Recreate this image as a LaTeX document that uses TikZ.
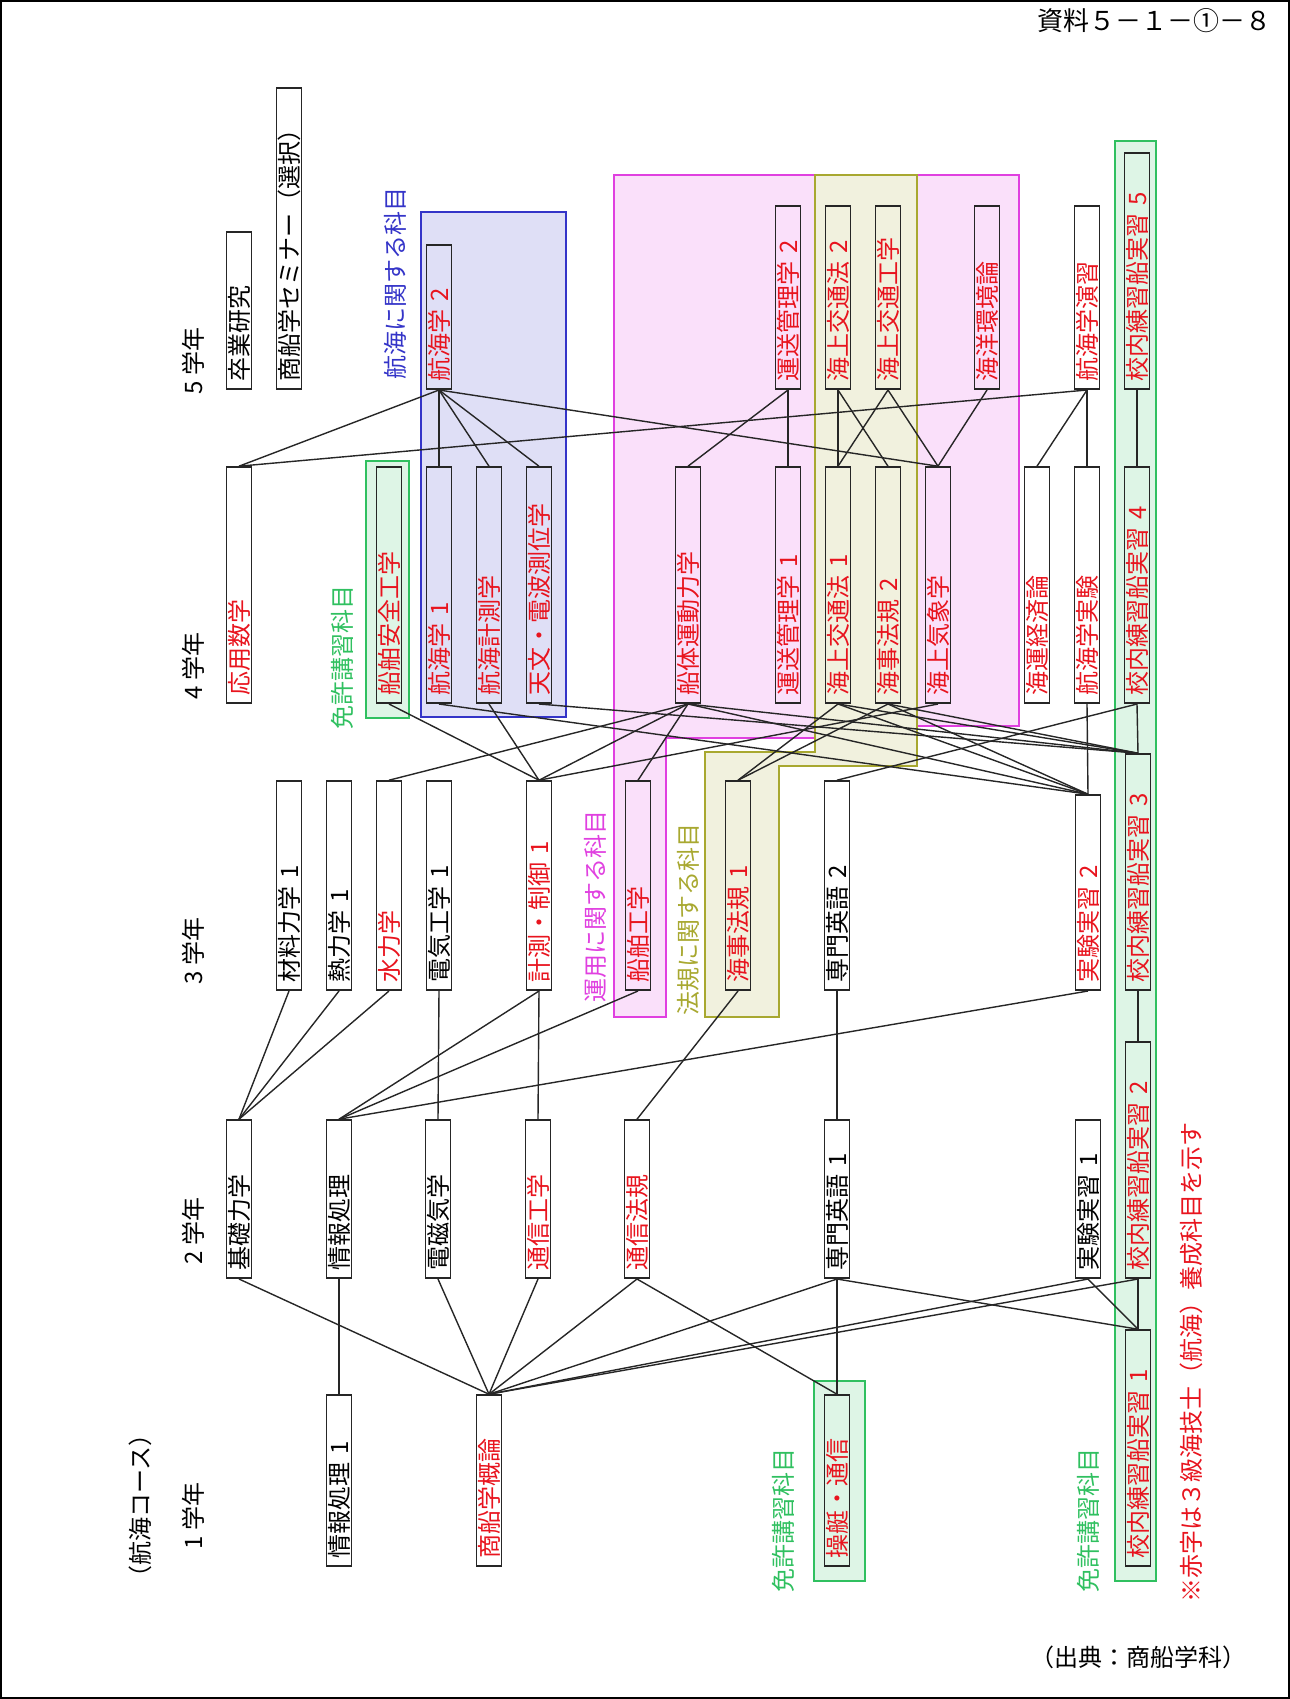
\documentclass[tikz,border=0pt]{standalone}
\usepackage{fontspec}
\setmainfont{Noto Sans CJK JP}
\definecolor{kred}{HTML}{E8141E}
\definecolor{kblue}{HTML}{3434C8}
\definecolor{kpink}{HTML}{E040E0}
\definecolor{kolive}{HTML}{A8A830}
\definecolor{kgreen}{HTML}{30C060}
\tikzset{
  subj/.style={draw=black!85, line width=0.9pt, rotate=90, anchor=west,
    inner xsep=4pt, inner ysep=0pt, minimum height=12.5pt,
    text width=#1, align=left, font=\fontsize{12}{12}\selectfont},
  red/.style={text=kred},
  lab/.style={rotate=90, anchor=west, inner sep=0pt, font=\fontsize{12}{12}\selectfont},
  link/.style={line width=0.7pt, black!85},
  area/.style={line width=0.8pt, draw=#1, fill=#1!16}
}
\begin{document}
\begin{tikzpicture}[x=0.5pt,y=-0.5pt]
    \useasboundingbox (0,0) rectangle (1290,1699);
    % page frame
    \draw[line width=0.6pt] (1,1) rectangle (1289,1698);

    % Shaded groups
    \draw[area=kpink] (614,175) -- (815,175) -- (815,738) -- (666,738) -- (666,1017) -- (614,1017) -- cycle;
    \draw[area=kpink] (917,175) rectangle (1019,726);
    \draw[area=kolive] (815,175) -- (917,175) -- (917,766) -- (779,766) -- (779,1017) -- (705,1017) -- (705,752) -- (815,752) -- cycle;
    \draw[area=kblue] (421,212) rectangle (566,717);
    \draw[area=kgreen] (366,461) rectangle (409,718);
    \draw[area=kgreen] (814,1381) rectangle (865,1581);
    \draw[area=kgreen] (1115,141) rectangle (1156,1581);

    % Group labels
    \node[lab, text=kblue] (lkokai) at (395,380) {航海に関する科目};
    \node[lab, text=kpink] (lunyo) at (595,1003) {運用に関する科目};
    \node[lab, text=kolive] (lhoki) at (688,1016) {法規に関する科目};
    \node[lab, text=kgreen] (lmen1) at (342,730) {免許講習科目};
    \node[lab, text=kgreen] (lmen2) at (783,1593) {免許講習科目};
    \node[lab, text=kgreen] (lmen3) at (1088,1593) {免許講習科目};

    % Year labels
    \node[lab] (course) at (140,1590) {（航海コース）};
    \node[lab] (yr5) at (193,395) {5 学年};
    \node[lab] (yr4) at (193,700) {4 学年};
    \node[lab] (yr3) at (193,985) {3 学年};
    \node[lab] (yr2) at (193,1265) {2 学年};
    \node[lab] (yr1) at (193,1550) {1 学年};

    % 5th year
    \node[subj=70.5pt] (sotsuken) at (239,390) {卒業研究};
    \node[subj=142.5pt] (seminar) at (289,390) {商船学セミナー（選択）};
    \node[subj=64pt, red] (kokai2) at (439,390) {航海学 2};
    \node[subj=83.5pt, red] (unso2) at (788,390) {運送管理学 2};
    \node[subj=83.5pt, red] (kotsu2) at (838,390) {海上交通法 2};
    \node[subj=83.5pt, red] (kotsuko) at (888,390) {海上交通工学};
    \node[subj=83.5pt, red] (kankyo) at (987,390) {海洋環境論};
    \node[subj=83.5pt, red] (enshu) at (1087,390) {航海学演習};
    \node[subj=110pt, red] (ship5) at (1137,390) {校内練習船実習 5};

    % 4th year
    \node[subj=110pt, red] (oyo) at (239,704) {応用数学};
    \node[subj=110pt, red] (anzen) at (389,704) {船舶安全工学};
    \node[subj=110pt, red] (kokai1) at (439,704) {航海学 1};
    \node[subj=110pt, red] (kkeisoku) at (489,704) {航海計測学};
    \node[subj=110pt, red] (tenmon) at (539,704) {天文・電波測位学};
    \node[subj=110pt, red] (sentai) at (688,704) {船体運動力学};
    \node[subj=110pt, red] (unso1) at (788,704) {運送管理学 1};
    \node[subj=110pt, red] (kotsu1) at (838,704) {海上交通法 1};
    \node[subj=110pt, red] (kaiji2) at (888,704) {海事法規 2};
    \node[subj=110pt, red] (kisho) at (938,704) {海上気象学};
    \node[subj=110pt, red] (kaiun) at (1037,704) {海運経済論};
    \node[subj=110pt, red] (kjikken) at (1087,704) {航海学実験};
    \node[subj=110pt, red] (ship4) at (1137,704) {校内練習船実習 4};

    % 3rd year
    \node[subj=96.5pt] (zairyo) at (289,991) {材料力学 1};
    \node[subj=96.5pt] (netsu) at (339,991) {熱力学 1};
    \node[subj=96.5pt, red] (suiriki) at (389,991) {水力学};
    \node[subj=96.5pt] (denki) at (439,991) {電気工学 1};
    \node[subj=96.5pt, red] (keisoku) at (539,991) {計測・制御 1};
    \node[subj=96.5pt, red] (senpaku) at (638,991) {船舶工学};
    \node[subj=96.5pt, red] (kaiji1) at (738,991) {海事法規 1};
    \node[subj=96.5pt] (eigo2) at (837,991) {専門英語 2};
    \node[subj=89.5pt, red] (jisshu2) at (1088,991) {実験実習 2};
    \node[subj=110pt, red] (ship3) at (1138,991) {校内練習船実習 3};

    % 2nd year
    \node[subj=71pt] (kiso) at (239,1279) {基礎力学};
    \node[subj=71pt] (joho) at (339,1279) {情報処理};
    \node[subj=71pt] (denjiki) at (438,1279) {電磁気学};
    \node[subj=71pt, red] (tsushin) at (538,1279) {通信工学};
    \node[subj=71pt, red] (tsuhoki) at (637,1279) {通信法規};
    \node[subj=71pt] (eigo1) at (837,1279) {専門英語 1};
    \node[subj=71pt] (jisshu1) at (1088,1279) {実験実習 1};
    \node[subj=110pt, red] (ship2) at (1138,1279) {校内練習船実習 2};

    % 1st year
    \node[subj=77.5pt] (joho1) at (339,1567) {情報処理 1};
    \node[subj=77.5pt, red] (gairon) at (489,1567) {商船学概論};
    \node[subj=77.5pt, red] (sotei) at (837,1567) {操艇・通信};
    \node[subj=110pt, red] (ship1) at (1138,1567) {校内練習船実習 1};

    % 5th -> 4th year
    \foreach \a/\b in {kokai2/oyo, kokai2/kokai1, kokai2/kkeisoku, kokai2/tenmon, kokai2/kisho,
        unso2/sentai, unso2/unso1, kotsu2/kotsu1, kotsu2/kaiji2, kotsuko/kotsu1, kotsuko/kisho,
        kankyo/kisho, enshu/oyo, enshu/kaiun, enshu/kjikken, ship5/ship4}
      \draw[link] (\a.west) -- (\b.east);
    % 4th -> 3rd year
    \foreach \a/\b in {anzen/keisoku, kkeisoku/keisoku, sentai/keisoku, sentai/senpaku, sentai/suiriki,
        sentai/jisshu2, sentai/ship3, kokai1/jisshu2, tenmon/ship3, kotsu1/kaiji1, kotsu1/jisshu2,
        kotsu1/ship3, kaiji2/kaiji1, kaiji2/jisshu2, kaiji2/ship3, kisho/keisoku, kjikken/jisshu2,
        ship4/eigo2, ship4/ship3}
      \draw[link] (\a.west) -- (\b.east);
    % 3rd -> 2nd year
    \foreach \a/\b in {zairyo/kiso, netsu/kiso, suiriki/kiso, denki/denjiki, keisoku/tsushin,
        keisoku/joho, senpaku/joho, jisshu2/joho, kaiji1/tsuhoki, eigo2/eigo1, ship3/ship2}
      \draw[link] (\a.west) -- (\b.east);
    % 2nd -> 1st year
    \foreach \a/\b in {kiso/gairon, denjiki/gairon, tsushin/gairon, tsuhoki/gairon, eigo1/gairon,
        jisshu1/gairon, ship2/gairon, joho/joho1, tsuhoki/sotei, eigo1/sotei, eigo1/ship1,
        jisshu1/ship1, ship2/ship1}
      \draw[link] (\a.west) -- (\b.east);

    % Notes
    \node[lab, text=kred] (note) at (1191,1603) {※赤字は３級海技士（航海）養成科目を示す};
    \node[anchor=east, inner sep=0pt, font=\fontsize{13}{13}\selectfont] (doc) at (1272,21) {資料５－１－①－８};
    \node[anchor=east, inner sep=0pt, font=\fontsize{12}{12}\selectfont] (src) at (1247,1657) {（出典：商船学科）};
\end{tikzpicture}
\end{document}
